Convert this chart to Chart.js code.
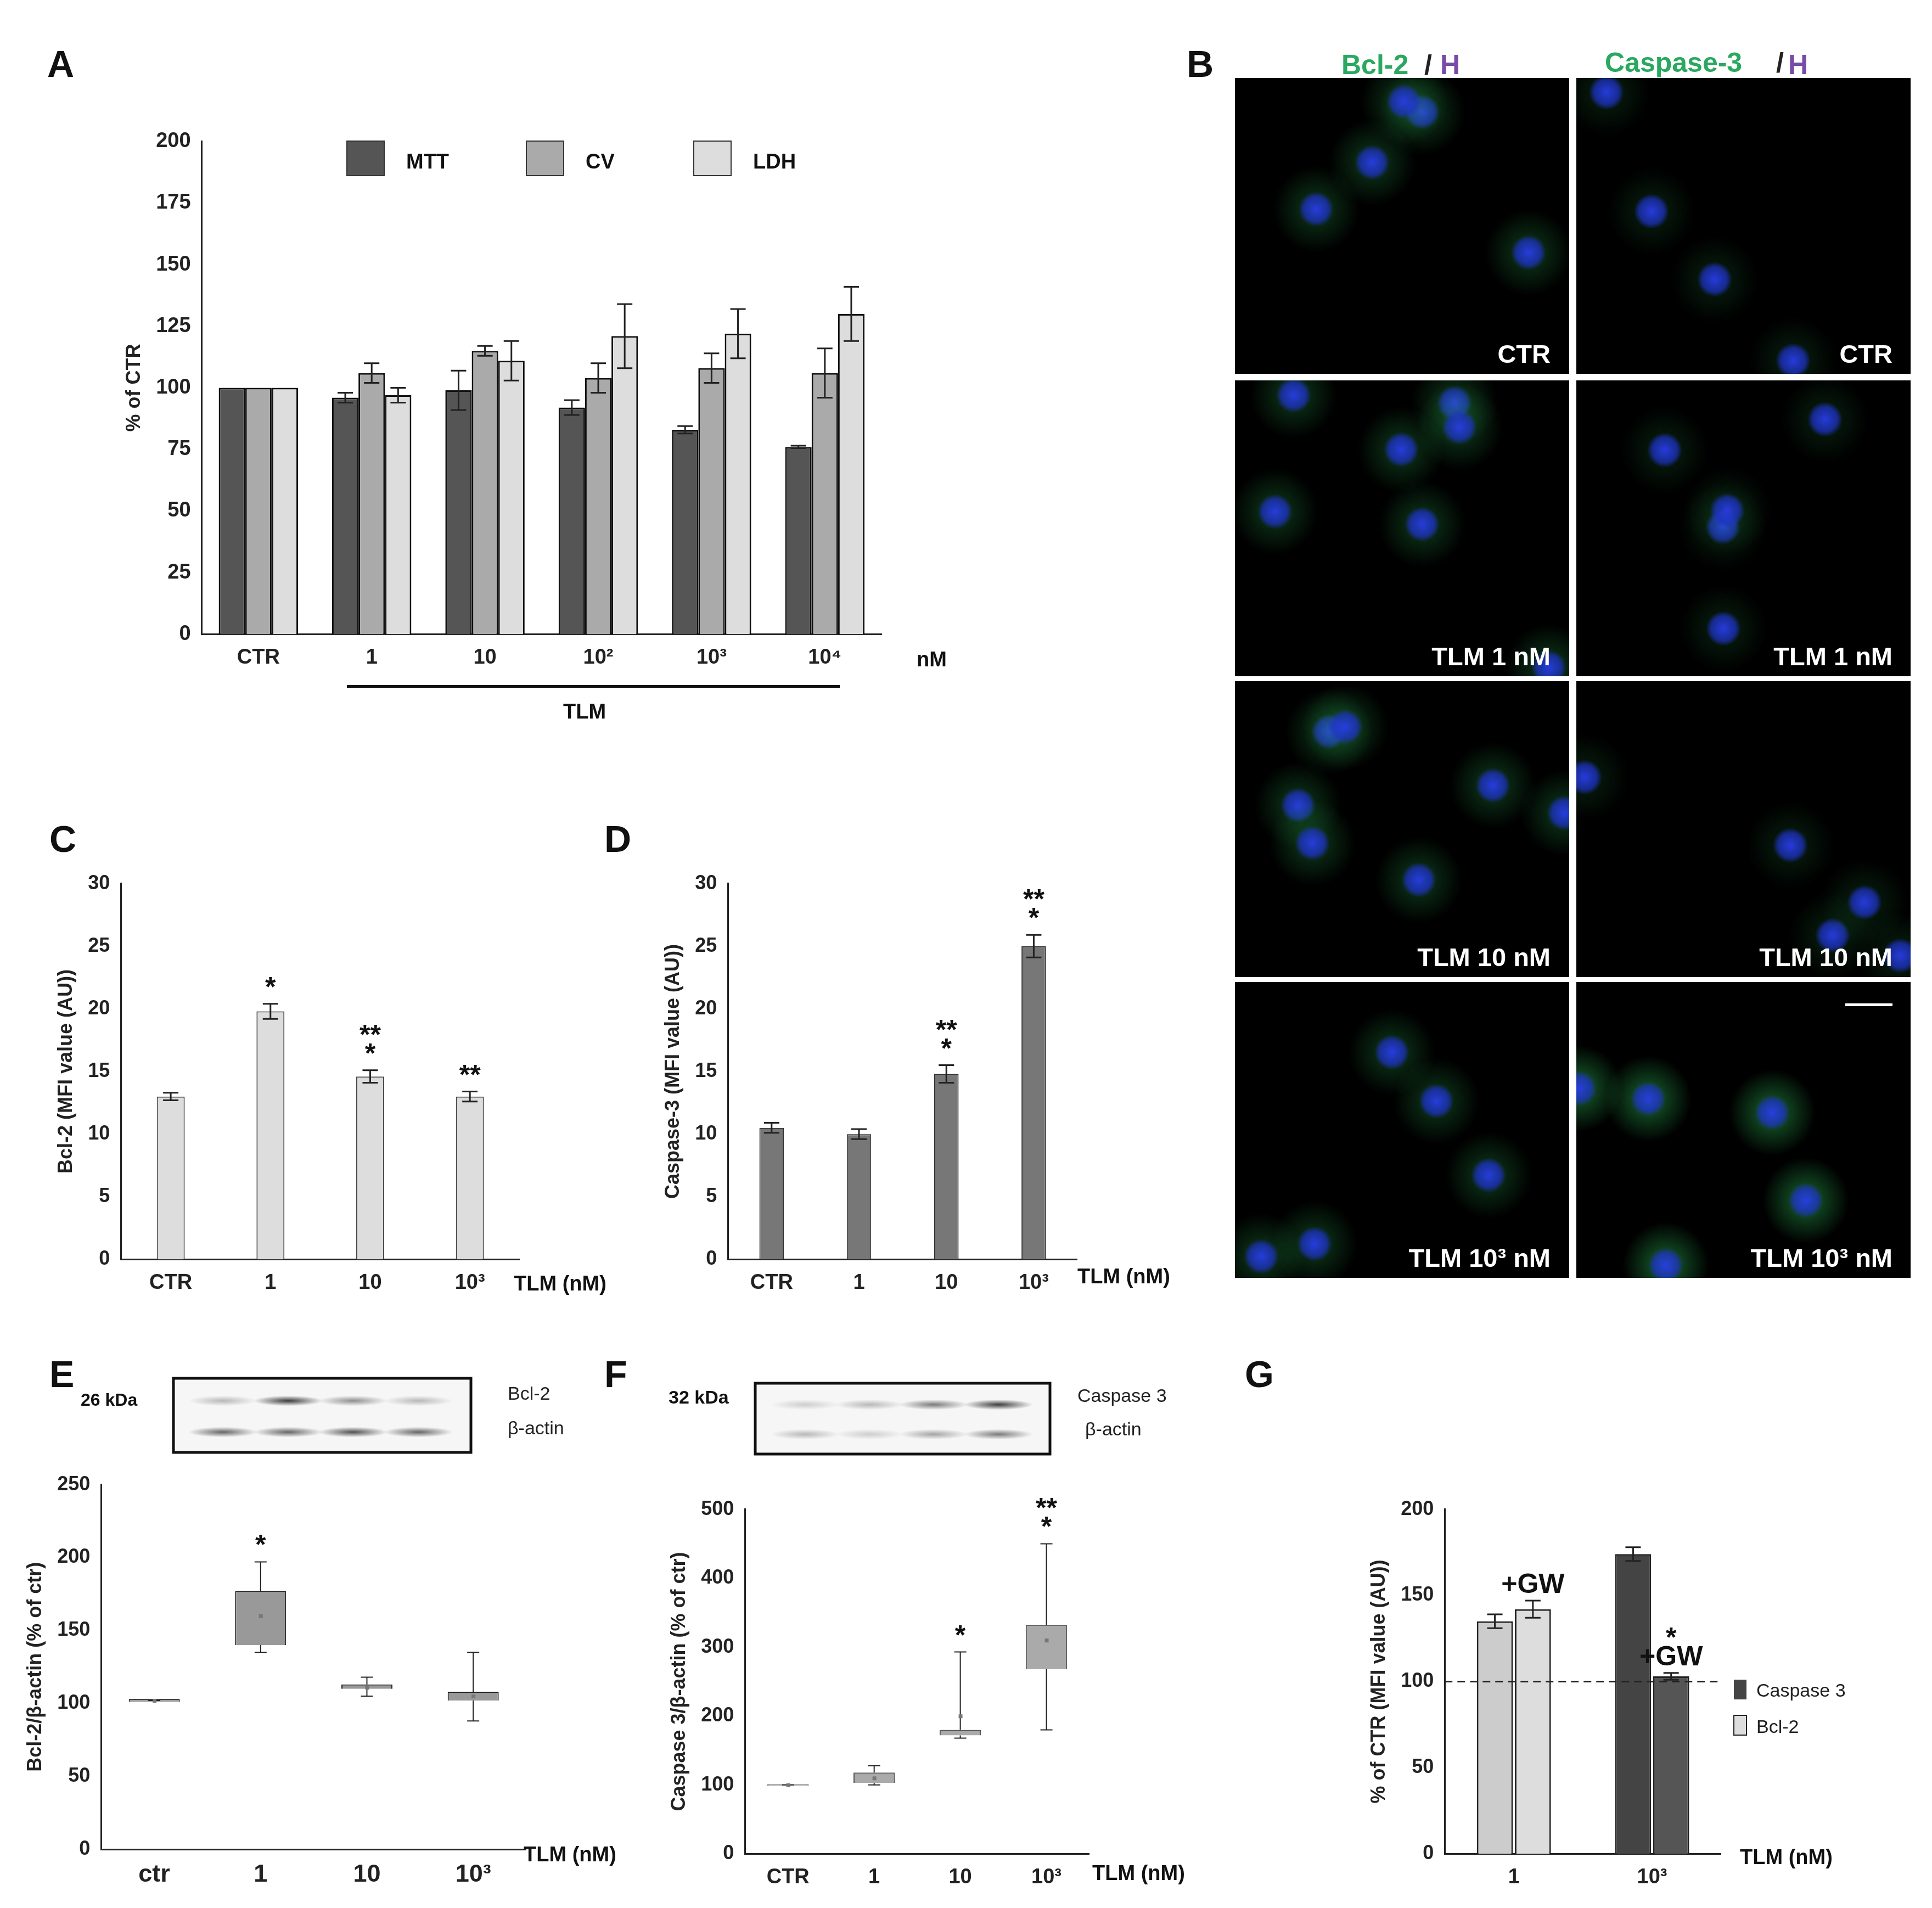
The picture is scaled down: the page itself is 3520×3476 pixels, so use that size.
<!DOCTYPE html>
<html><head><meta charset="utf-8">
<script src="https://cdn.jsdelivr.net/npm/chart.js@4"></script>
<style>body{margin:0;background:#fff;width:3520px;height:3476px;position:relative;overflow:hidden;font-family:"Liberation Sans",Arial,sans-serif}
.c{position:absolute}</style></head><body>
<canvas id="bg" class="c" width="3520" height="3476" style="left:0;top:0"></canvas>
<script>
const S=3520/1560;
// ---- data ----
const catsA=['CTR','1','10','10²','10³','10⁴'];
const mtt=[100,96,99,92,83,76], mttErr=[0,2,8,3,1.5,0.5];
const cv=[100,106,115,104,108,106], cvErr=[0,4,2,6,6,10];
const ldh=[100,97,111,121,122,130], ldhErr=[0,3,8,13,10,11];
const catsCD=['CTR','1','10','10³'];
const bcl2=[13,19.8,14.6,13], bcl2Err=[0.3,0.6,0.5,0.4], bcl2Star=['','*','**\n*','**'];
const casp=[10.5,10,14.8,25], caspErr=[0.4,0.4,0.7,0.9], caspStar=['','','**\n*','**\n*'];
const catsE=['ctr','1','10','10³'];
const eQ=[[101,103],[140,177],[110,113],[102,108]], eW=[[102,102],[135,197],[105,118],[88,135]], eMean=[102,160,111,105], eStar=['','*','',''];
const catsF=['CTR','1','10','10³'];
const fQ=[[99,101],[103,118],[172,180],[268,332]], fW=[[100,100],[100,128],[168,293],[180,450]], fMean=[100,110,200,310], fStar=['','','*','**\n*'];
const catsG=['1','10³'];
const gCtrl=[135,174], gCtrlErr=[4,4], gGW=[142,103], gGWErr=[5,2];

const F=n=>Math.round(n*S);
const FONT='"Liberation Sans",Arial,sans-serif';
Chart.defaults.font.family=FONT;Chart.defaults.font.weight='bold';Chart.defaults.color='#222';
Chart.defaults.animation=false;Chart.defaults.devicePixelRatio=1;

const extras={id:'extras',afterDatasetsDraw(ch){const c=ch.ctx,y=ch.scales.y;
 ch.data.datasets.forEach((ds,i)=>{const m=ch.getDatasetMeta(i);
  m.data.forEach((el,j)=>{const x=el.x;c.save();c.strokeStyle='#222';c.lineWidth=F(1.5);
   let top=null;
   if(ds.err){const v=ds.data[j],e=ds.err[j];if(e>0){const a=y.getPixelForValue(v+e),b=y.getPixelForValue(v-e),w=F(6);
     c.beginPath();c.moveTo(x,a);c.lineTo(x,b);c.moveTo(x-w,a);c.lineTo(x+w,a);c.moveTo(x-w,b);c.lineTo(x+w,b);c.stroke();}
     top=y.getPixelForValue(v+e);}
   if(ds.whisk){const [lo,hi]=ds.whisk[j],q=ds.data[j];c.lineWidth=F(1);
     const a=y.getPixelForValue(hi),b=y.getPixelForValue(lo),w=F(5);
     c.beginPath();c.moveTo(x,a);c.lineTo(x,y.getPixelForValue(q[1]));c.moveTo(x,b);c.lineTo(x,y.getPixelForValue(q[0]));
     c.moveTo(x-w,a);c.lineTo(x+w,a);c.moveTo(x-w,b);c.lineTo(x+w,b);c.stroke();
     const my=y.getPixelForValue(ds.mean[j]);c.fillStyle='#777';c.fillRect(x-F(1.5),my-F(1.5),F(3),F(3));top=a;}
   if(ds.star&&ds.star[j]){c.fillStyle='#111';c.font='bold '+F(22)+'px '+FONT;c.textAlign='center';
     const ls=ds.star[j].split('\n');ls.forEach((s,k)=>c.fillText(s,x,top-F(6)-(ls.length-1-k)*F(15)));}
   c.restore();});});}};

function mk(x,y,w,h,cfg){const cv=document.createElement('canvas');cv.className='c';
 cv.style.left=F(x)+'px';cv.style.top=F(y)+'px';cv.width=F(w);cv.height=F(h);cv.style.width=F(w)+'px';cv.style.height=F(h)+'px';
 document.body.appendChild(cv);cfg.plugins=(cfg.plugins||[]).concat([extras]);
 cfg.options=Object.assign({responsive:false,plugins:{legend:{display:false},tooltip:{enabled:false}}},cfg.options);
 return new Chart(cv,cfg);}
function yAx(min,max,step,title,fs){return {min,max,ticks:{stepSize:step,font:{size:F(fs||16)},padding:F(4)},grid:{display:false,drawTicks:true,tickLength:F(5),color:'#222'},border:{color:'#222',width:F(1.5)},
 title:{display:true,text:title,font:{size:F(16)},padding:F(4)}};}
function xAx(fs){return {ticks:{font:{size:F(fs||17)},padding:F(4)},grid:{display:false,tickLength:F(5)},border:{color:'#222',width:F(1.5)}};}

// A
mk(95,100,625,445,{type:'bar',data:{labels:catsA,datasets:[
 {data:mtt,err:mttErr,backgroundColor:'#555',borderColor:'#111',borderWidth:F(1.2)},
 {data:cv,err:cvErr,backgroundColor:'#aaa',borderColor:'#111',borderWidth:F(1.2)},
 {data:ldh,err:ldhErr,backgroundColor:'#ddd',borderColor:'#111',borderWidth:F(1.2)}]},
 options:{layout:{padding:{top:F(8),right:F(8)}},categoryPercentage:0.7,barPercentage:1,
 scales:{y:yAx(0,200,25,'% of CTR',17),x:xAx(17)}}});
// C
mk(40,700,380,350,{type:'bar',data:{labels:catsCD,datasets:[{data:bcl2,err:bcl2Err,star:bcl2Star,backgroundColor:'#ddd',borderColor:'#444',borderWidth:F(1),barPercentage:0.35}]},
 options:{layout:{padding:{top:F(8)}},scales:{y:yAx(0,30,5,'Bcl-2 (MFI value (AU))'),x:xAx()}}});
// D
mk(530,700,340,350,{type:'bar',data:{labels:catsCD,datasets:[{data:casp,err:caspErr,star:caspStar,backgroundColor:'#777',borderColor:'#333',borderWidth:F(1),barPercentage:0.35}]},
 options:{layout:{padding:{top:F(8)}},scales:{y:yAx(0,30,5,'Caspase-3 (MFI value (AU))'),x:xAx()}}});
// E
mk(15,1185,410,345,{type:'bar',data:{labels:catsE,datasets:[{data:eQ,whisk:eW,mean:eMean,star:eStar,backgroundColor:'#999',borderColor:'#222',borderWidth:F(1),barPercentage:0.6}]},
 options:{layout:{padding:{top:F(8)}},scales:{y:yAx(0,250,50,'Bcl-2/β-actin (% of ctr)'),x:xAx(20)}}});
// F
mk(535,1205,345,325,{type:'bar',data:{labels:catsF,datasets:[{data:fQ,whisk:fW,mean:fMean,star:fStar,backgroundColor:'#aaa',borderColor:'#555',borderWidth:F(1),barPercentage:0.6}]},
 options:{layout:{padding:{top:F(8)}},scales:{y:yAx(0,500,100,'Caspase 3/β-actin (% of ctr)'),x:xAx()}}});
// G
const dashPl={id:'dash',afterDatasetsDraw(ch){const c=ch.ctx,y=ch.scales.y.getPixelForValue(100);c.save();c.setLineDash([F(6),F(4)]);c.strokeStyle='#222';c.lineWidth=F(1.2);
 c.beginPath();c.moveTo(ch.chartArea.left,y);c.lineTo(ch.chartArea.right+F(100),y);c.stroke();c.restore();}};
mk(1100,1205,290,325,{type:'bar',data:{labels:catsG,datasets:[
 {data:gCtrl,err:gCtrlErr,star:['',''],backgroundColor:['#ccc','#444'],borderColor:'#222',borderWidth:F(1.5)},
 {data:gGW,err:gGWErr,star:['+GW','*\n+GW'],backgroundColor:['#ddd','#555'],borderColor:'#222',borderWidth:F(1.5)}]},
 plugins:[dashPl],options:{layout:{padding:{top:F(8)}},categoryPercentage:0.55,barPercentage:0.95,scales:{y:yAx(0,200,50,'% of CTR (MFI value (AU))'),x:xAx()}}});

// decorations
const c=document.getElementById('bg').getContext('2d');
function T(t,x,y,sz,al,col,w){c.font=(w||'bold')+' '+F(sz)+'px '+FONT;c.fillStyle=col||'#111';c.textAlign=al||'left';c.fillText(t,F(x),F(y));}
T('A',38,62,30);T('B',958,62,30);T('C',40,688,30);T('D',488,688,30);T('E',40,1120,30);T('F',488,1120,30);T('G',1005,1120,30);
// A legend
[['MTT','#555',280],['CV','#aaa',425],['LDH','#ddd',560]].forEach(([n,col,x])=>{c.fillStyle=col;c.fillRect(F(x),F(114),F(30),F(28));c.strokeStyle='#333';c.lineWidth=F(1);c.strokeRect(F(x),F(114),F(30),F(28));T(n,x+48,136,17);});
T('nM',740,538,17);c.fillStyle='#111';c.fillRect(F(280),F(553),F(398),F(2));T('TLM',472,580,17,'center');
T('TLM (nM)',415,1042,17);T('TLM (nM)',870,1036,17);T('TLM (nM)',423,1503,17);T('TLM (nM)',882,1518,17);T('TLM (nM)',1405,1505,17);
// G legend
c.fillStyle='#444';c.fillRect(F(1400),F(1356),F(10),F(16));c.fillStyle='#ddd';c.fillRect(F(1400),F(1385),F(10),F(16));c.strokeStyle='#222';c.strokeRect(F(1400),F(1385),F(10),F(16));
T('Caspase 3',1418,1370,15,'left','#222','normal');T('Bcl-2',1418,1399,15,'left','#222','normal');
// blots
function blot(x,y,w,h,top,bot){c.fillStyle='#f6f6f6';c.fillRect(F(x),F(y),F(w),F(h));c.strokeStyle='#111';c.lineWidth=F(2);c.strokeRect(F(x),F(y),F(w),F(h));
 [top,bot].forEach((row,r)=>row.forEach((v,i)=>{const bx=x+15+i*(w-30)/row.length,by=y+(r?h*0.72:h*0.3);const g=c.createRadialGradient(F(bx+25),F(by),0,F(bx+25),F(by),F(28));
 g.addColorStop(0,'rgba(40,40,40,'+v+')');g.addColorStop(1,'rgba(40,40,40,0)');c.save();c.translate(F(bx+25),F(by));c.scale(1,0.15);c.translate(-F(bx+25),-F(by));c.fillStyle=g;c.fillRect(F(bx-5),F(by-30),F(60),F(60));c.restore();}));}
blot(140,1113,240,60,[0.3,0.9,0.5,0.3],[0.7,0.7,0.8,0.7]);blot(610,1117,238,57,[0.2,0.3,0.6,0.9],[0.3,0.2,0.4,0.6]);
T('26 kDa',65,1135,14);T('Bcl-2',410,1130,15,'left','#222','normal');T('β-actin',410,1158,15,'left','#222','normal');
T('32 kDa',540,1133,15);T('Caspase 3',870,1132,15,'left','#222','normal');T('β-actin',876,1159,15,'left','#222','normal');
// B images
T('Bcl-2',1083,60,22,'left','#2aa860');T('/',1150,60,22,'left','#222');T('H',1163,60,22,'left','#7a4aa8');
T('Caspase-3',1296,58,22,'left','#2aa860');T('/',1434,58,22,'left','#222');T('H',1444,60,22,'left','#7a4aa8');
const cols=[997,1273],rows=[63,307,550,793],labs=['CTR','TLM 1 nM','TLM 10 nM','TLM 10³ nM'];
let seed=7;const rnd=()=>(seed=(seed*9301+49297)%233280)/233280;
cols.forEach((x,ci)=>rows.forEach((y,ri)=>{c.fillStyle='#000';c.fillRect(F(x),F(y),F(270),F(239));
 c.save();c.beginPath();c.rect(F(x),F(y),F(270),F(239));c.clip();
 const n=4+Math.floor(rnd()*4);for(let k=0;k<n;k++){const cx=x+rnd()*270,cy=y+rnd()*239;const gv=(ci==0?0.35:0.2)+(ri==3&&ci==1?0.4:0);
  let g=c.createRadialGradient(F(cx),F(cy),0,F(cx),F(cy),F(35));g.addColorStop(0,'rgba(40,170,80,'+gv+')');g.addColorStop(1,'rgba(40,170,80,0)');c.fillStyle=g;c.fillRect(F(cx-40),F(cy-40),F(80),F(80));
  g=c.createRadialGradient(F(cx),F(cy),0,F(cx),F(cy),F(14));g.addColorStop(0,'rgba(40,60,230,0.95)');g.addColorStop(0.7,'rgba(30,50,200,0.7)');g.addColorStop(1,'rgba(30,50,200,0)');c.fillStyle=g;c.fillRect(F(cx-15),F(cy-15),F(30),F(30));}
 c.restore();T(labs[ri],x+255,y+230,21,'right','#fff');}));
c.fillStyle='#fff';c.fillRect(F(1490),F(810),F(38),F(2));
</script></body></html>
